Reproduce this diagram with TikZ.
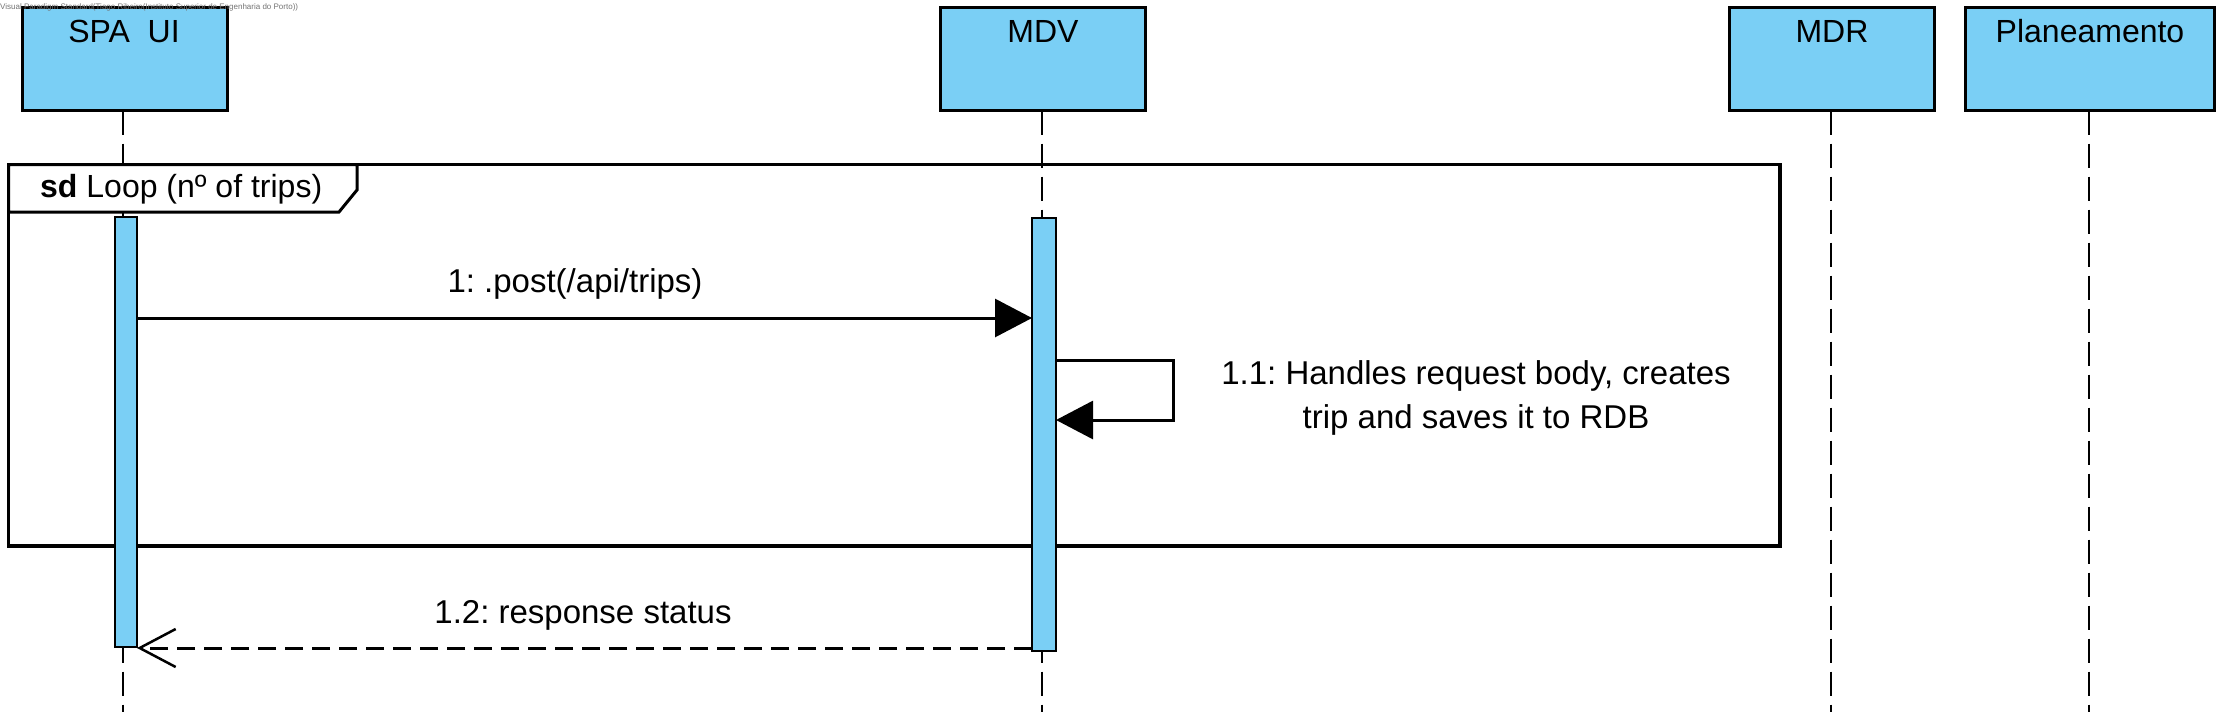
\documentclass[tikz,border=0pt]{standalone}
\usepackage{fontspec}
\setmainfont{Liberation Sans}
\usetikzlibrary{arrows.meta}
\definecolor{vpblue}{RGB}{122,207,245}
\frenchspacing
\begin{document}
\begin{tikzpicture}[x=1pt,y=-1pt,
  participant/.style={draw=black, fill=vpblue, line width=3.5pt, inner sep=0pt, outer sep=0pt, rectangle},
  ptext/.style={anchor=base, font=\fontsize{32}{38}\selectfont, inner sep=0pt},
  msgtext/.style={anchor=base, font=\fontsize{33}{39}\selectfont, inner sep=0pt},
  lifeline/.style={line width=2.5pt, dash pattern=on 24pt off 9pt},
  actbar/.style={draw=black, fill=vpblue, line width=2.5pt, inner sep=0pt, outer sep=0pt, rectangle},
  msg/.style={line width=3pt, -{Triangle[length=37pt,width=38pt]}},
  reply/.style={line width=3pt, dash pattern=on 18pt off 9pt, -{Straight Barb[length=36pt,width=38pt,line width=2.5pt]}},
  frameline/.style={line width=3.5pt},
]
\useasboundingbox (0,0) rectangle (2229,723);

% participants
\node[participant, minimum width=205pt, minimum height=103pt] (spa) at (125,59) {};
\node[participant, minimum width=205pt, minimum height=103pt] (mdv) at (1043,59) {};
\node[participant, minimum width=205pt, minimum height=103pt] (mdr) at (1832,59) {};
\node[participant, minimum width=249pt, minimum height=103pt] (plan) at (2090,59) {};
\node[ptext] (spaT) at (124,42) {SPA\ \ UI};
\node[ptext] (mdvT) at (1043,42) {MDV};
\node[ptext] (mdrT) at (1832,42) {MDR};
\node[ptext] (planT) at (2090,42) {Planeamento};

% lifeline ends
\coordinate (spaEnd) at (123,712);
\coordinate (mdvEnd) at (1042,712);
\coordinate (mdrEnd) at (1831,712);
\coordinate (planEnd) at (2089,712);
\draw[lifeline] (spa.south -| spaEnd) -- (spaEnd);
\draw[lifeline] (mdv.south -| mdvEnd) -- (mdvEnd);
\draw[lifeline] (mdr.south -| mdrEnd) -- (mdrEnd);
\draw[lifeline] (plan.south -| planEnd) -- (planEnd);

% loop frame
\draw[frameline] (8.5,164.5) rectangle (1780,546);
\draw[line width=3pt, fill=white] (8.5,164.5) -- (357,164.5) -- (357,190) -- (339,212) -- (8.5,212) -- cycle;
\node[anchor=base west, inner sep=0pt, font=\fontsize{32}{38}\selectfont] (loopT) at (40,197) {\textbf{sd} Loop (nº of trips)};

% activation bars
\node[actbar, minimum width=22pt, minimum height=430pt] (spaAct) at (126,432) {};
\node[actbar, minimum width=24pt, minimum height=433pt] (mdvAct) at (1044,434.5) {};

% message rows
\coordinate (y318) at (0,318);
\coordinate (y360) at (0,360);
\coordinate (y420) at (0,420);
\coordinate (y648) at (0,648);
\coordinate (selfR) at (1173,390);

\draw[msg] (spaAct.east |- y318) -- (mdvAct.west |- y318);
\node[msgtext] (m1T) at (575,292) {1: .post(/api/trips)};

\draw[msg] (mdvAct.east |- y360) -| (selfR) |- (mdvAct.east |- y420);
\node[msgtext] (m2Ta) at (1476,384) {1.1: Handles request body, creates};
\node[msgtext] (m2Tb) at (1476,428) {trip and saves it to RDB};

\draw[reply] (mdvAct.west |- y648) -- (spaAct.east |- y648);
\node[msgtext] (m3T) at (583,623) {1.2: response status};

% watermark
\node[anchor=base west, inner sep=0pt, font=\fontsize{8}{9}\selectfont, text=black!55] (wm) at (0,9) {Visual Paradigm Standard(Tiago Ribeiro(Instituto Superior de Engenharia do Porto))};
\end{tikzpicture}
\end{document}
